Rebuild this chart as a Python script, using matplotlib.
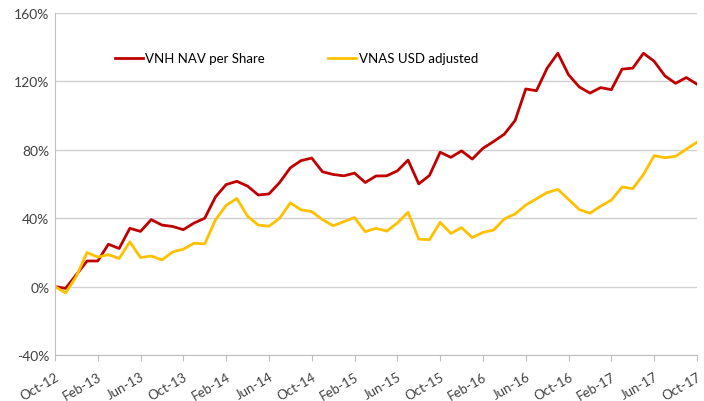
import numpy as np
import matplotlib.pyplot as plt

plt.rcParams['font.family'] = ['Lato', 'DejaVu Sans']

# 月度数据 Oct-12 .. Oct-17 (累计回报 %)
vnh_nav = [0, -1, 7, 15, 15, 24.8, 22.3, 34.1, 32.3, 39.2,
           36.0, 35.2, 33.3, 37.2, 40.0, 52.4, 59.7, 61.6, 58.8, 53.6,
           54.2, 60.9, 69.5, 73.7, 75.2, 67.2, 65.6, 64.8, 66.4, 60.9,
           64.7, 64.8, 67.7, 74.0, 60.1, 65.0, 78.6, 75.6, 79.4, 74.6,
           80.9, 84.9, 89.2, 97.1, 115.6, 114.6, 127.8, 136.5, 123.9, 116.8,
           113.2, 116.4, 115.2, 127.2, 127.8, 136.5, 131.8, 123.3, 118.9, 122.3,
           118.4]
vnas_usd = [0, -3.7, 6, 19.9, 17.3, 18.7, 16.4, 26.2, 17.0, 17.9,
            15.6, 20.3, 21.9, 25.4, 25.0, 39.0, 47.5, 51.6, 41.2, 36.0,
            35.3, 40.0, 49.0, 44.9, 43.9, 39.2, 35.6, 38.0, 40.4, 32.1,
            34.1, 32.5, 37.2, 43.5, 27.8, 27.4, 37.6, 31.1, 34.5, 28.7,
            31.7, 33.1, 39.6, 42.5, 47.7, 51.4, 55.0, 56.9, 51.0, 45.1,
            42.9, 47.1, 50.6, 58.3, 57.3, 65.6, 76.6, 75.4, 76.2, 80.4,
            84.5]
tick_labels = ['Oct-12', 'Feb-13', 'Jun-13', 'Oct-13', 'Feb-14', 'Jun-14',
               'Oct-14', 'Feb-15', 'Jun-15', 'Oct-15', 'Feb-16', 'Jun-16',
               'Oct-16', 'Feb-17', 'Jun-17', 'Oct-17']

x = np.arange(len(vnh_nav))

fig = plt.figure(figsize=(7.04, 4.02), dpi=100)
ax = fig.add_axes([0.078, 0.1144, 0.912, 0.8506])

ax.plot(x, vnh_nav, color='#C00000', lw=2.0, label='VNH NAV per Share')
ax.plot(x, vnas_usd, color='#FFC000', lw=2.0, label='VNAS USD adjusted')

ax.set_xlim(0, len(x) - 1)
ax.set_ylim(-40, 160)
ax.set_yticks(np.arange(-40, 161, 40))
ax.set_yticklabels([f'{v}%' for v in range(-40, 161, 40)], fontsize=10, color='#404040')
ax.set_xticks(np.arange(0, len(x), 4))
ax.set_xticklabels(tick_labels, rotation=30, ha='right', rotation_mode='anchor',
                   fontsize=9.5, color='#404040')

ax.grid(axis='y', color='#d0d0d0', lw=1)
ax.set_axisbelow(True)
for s in ['top', 'right']:
    ax.spines[s].set_visible(False)
for s in ['left', 'bottom']:
    ax.spines[s].set_color('#bfbfbf')
ax.tick_params(axis='y', length=0, pad=4)
ax.tick_params(axis='x', length=4, color='#bfbfbf', direction='out', pad=7)

ax.legend(loc='upper left', bbox_to_anchor=(0.075, 0.92), ncol=2, frameon=False,
          fontsize=9.5, handlelength=2.1, columnspacing=4.8, handletextpad=0.2)

plt.savefig('out.png', dpi=100)
plt.close()
